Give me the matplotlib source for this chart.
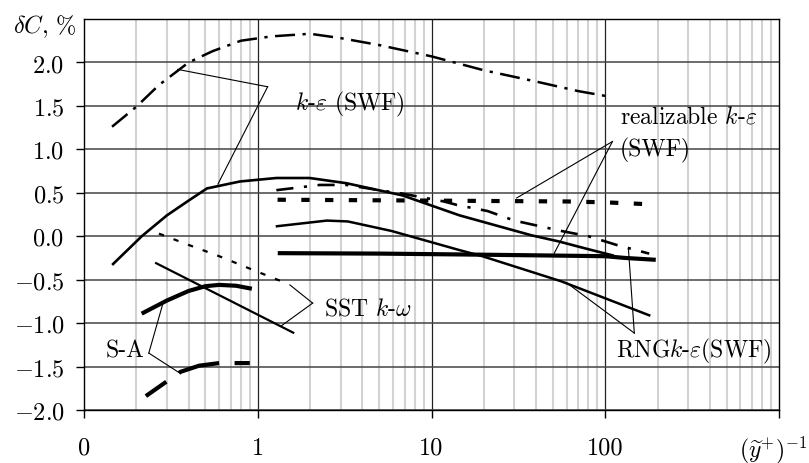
import matplotlib
matplotlib.use('Agg')
import matplotlib.pyplot as plt
from matplotlib.ticker import FixedLocator, FixedFormatter, NullFormatter
import numpy as np

plt.rcParams['font.family'] = 'serif'
plt.rcParams['font.serif'] = ['cmr10']
plt.rcParams['mathtext.fontset'] = 'cm'
plt.rcParams['axes.formatter.use_mathtext'] = True

# ---------------- data ----------------
ke_swf_dd_x = [0.145, 0.2, 0.27, 0.4, 0.55, 0.8, 1.2, 2.0, 3.0, 5.0, 10, 20, 40, 70, 110]
ke_swf_dd_y = [1.26, 1.49, 1.74, 2.0, 2.13, 2.25, 2.30, 2.33, 2.28, 2.20, 2.07, 1.91, 1.78, 1.67, 1.60]

ke_swf_x = [0.147, 0.215, 0.30, 0.40, 0.51, 0.79, 1.28, 1.99, 3.24, 6.8, 14.5, 37.7, 54, 80, 110]
ke_swf_y = [-0.32, 0.0, 0.24, 0.41, 0.55, 0.63, 0.67, 0.67, 0.61, 0.47, 0.24, 0.01, -0.06, -0.15, -0.22]

rke_dd_x = [1.28, 2.27, 3.25, 5.0, 6.8, 11.8, 14, 21, 30, 56, 80, 100, 116, 179]
rke_dd_y = [0.53, 0.59, 0.59, 0.53, 0.49, 0.40, 0.36, 0.29, 0.18, 0.06, 0.0, -0.06, -0.10, -0.20]

rke_dash_x = [1.3, 10, 60, 100, 170]
rke_dash_y = [0.42, 0.41, 0.40, 0.39, 0.37]

thick_x = [1.34, 5, 15, 40, 100, 130, 190]
thick_y = [-0.195, -0.20, -0.21, -0.22, -0.23, -0.25, -0.27]

rng_x = [1.29, 2.5, 3.3, 5.9, 14.5, 19.6, 35, 56, 179]
rng_y = [0.115, 0.18, 0.17, 0.06, -0.16, -0.23, -0.39, -0.52, -0.91]

sst_dot_x = [0.27, 0.4, 0.6, 1.0, 1.5]
sst_dot_y = [0.03, -0.10, -0.23, -0.41, -0.55]

sst_x = [0.26, 1.6]
sst_y = [-0.31, -1.11]

sa_x = [0.22, 0.3, 0.4, 0.5, 0.6, 0.75, 0.9]
sa_y = [-0.88, -0.74, -0.63, -0.575, -0.56, -0.57, -0.60]

sa_dash_x = [0.227, 0.3, 0.36, 0.46, 0.6, 0.75, 0.9]
sa_dash_y = [-1.84, -1.67, -1.56, -1.49, -1.46, -1.46, -1.46]

xtick_pos = [0.1, 1, 10, 100, 1000]
xtick_labels = ['0', '1', '10', '100', '']
ytick_pos = [-2.0, -1.5, -1.0, -0.5, 0.0, 0.5, 1.0, 1.5, 2.0]
ytick_labels = [r'$-2.0$', r'$-1.5$', r'$-1.0$', r'$-0.5$', r'$0.0$', r'$0.5$', r'$1.0$', r'$1.5$', r'$2.0$']

# ---------------- figure ----------------
fig = plt.figure(figsize=(8.09, 4.64), dpi=100)
ax = fig.add_axes([84/809, 1-411/464, (779-84)/809, (411-20)/464])
ax.set_xscale('log')
ax.set_xlim(0.1, 1000)
ax.set_ylim(-2.0, 2.5)

# grid
minor = [m * 10.0**e for e in (-1, 0, 1, 2) for m in range(2, 10)]
for xv in minor:
    ax.axvline(xv, color='#d2d2d2', lw=1.5, zorder=0)
for xv in [1, 10, 100]:
    ax.axvline(xv, color='#222222', lw=0.9, zorder=0.5)
for yv in ytick_pos:
    ax.axhline(yv, color='#444444', lw=1.1, zorder=0.5)

ax.xaxis.set_major_locator(FixedLocator(xtick_pos))
ax.xaxis.set_major_formatter(FixedFormatter(xtick_labels))
ax.xaxis.set_minor_locator(FixedLocator([]))
ax.xaxis.set_minor_formatter(NullFormatter())
ax.yaxis.set_major_locator(FixedLocator(ytick_pos))
ax.yaxis.set_major_formatter(FixedFormatter(ytick_labels))
ax.tick_params(axis='x', direction='out', length=6, width=1, pad=13, labelsize=17.5)
ax.tick_params(axis='y', direction='out', length=6, width=1, pad=8, labelsize=17.5)
for s in ax.spines.values():
    s.set_linewidth(1.0)

k = 'black'
ax.plot(ke_swf_dd_x, ke_swf_dd_y, color=k, lw=1.8, linestyle=(0, (8, 3, 1.3, 3)), zorder=3)
ax.plot(ke_swf_x, ke_swf_y, color=k, lw=1.9, zorder=3)
ax.plot(rke_dd_x, rke_dd_y, color=k, lw=1.9, linestyle=(0, (6.5, 4, 1.2, 4)), zorder=3)
ax.plot(rke_dash_x, rke_dash_y, color=k, lw=3.0, linestyle=(0, (2, 3.7)), zorder=3)
ax.plot(thick_x, thick_y, color=k, lw=3.0, zorder=3)
ax.plot(rng_x, rng_y, color=k, lw=1.8, zorder=3)
ax.plot(sst_dot_x, sst_dot_y, color=k, lw=1.6, linestyle=(0, (2.4, 4.6)), zorder=3)
ax.plot(sst_x, sst_y, color=k, lw=1.6, zorder=3)
ax.plot(sa_x, sa_y, color=k, lw=3.0, zorder=3)
ax.plot(sa_dash_x, sa_dash_y, color=k, lw=3.0, linestyle=(4, (10, 3.7)), zorder=3)

# annotation leader lines
def leader(apex, targets):
    for t in targets:
        ax.plot([apex[0], t[0]], [apex[1], t[1]], color=k, lw=0.8, zorder=4)

leader((1.14, 1.72), [(0.346, 1.92), (0.59, 0.60)])
leader((110, 1.09), [(30.9, 0.44), (50.9, -0.195)])
leader((147, -1.115), [(59.4, -0.53), (136, -0.15)])
leader((2.07, -0.77), [(1.53, -0.56), (1.37, -1.03)])
leader((0.236, -1.345), [(0.284, -0.78), (0.356, -1.575)])

fs = 17
ax.text(1.63, 1.53, r'$k$-$\varepsilon$ (SWF)', fontsize=fs, va='center', ha='left', zorder=5)
ax.text(121, 1.38, r'realizable $k$-$\varepsilon$', fontsize=fs, va='center', ha='left', zorder=5)
ax.text(121, 1.0, '(SWF)', fontsize=fs, va='center', ha='left', zorder=5)
ax.text(115, -1.32, r'RNG$k$-$\varepsilon$(SWF)', fontsize=fs, va='center', ha='left', zorder=5)
ax.text(2.42, -0.83, r'SST $k$-$\omega$', fontsize=fs, va='center', ha='left', zorder=5)
ax.text(0.224, -1.32, 'S-A', fontsize=fs, va='center', ha='right', zorder=5)

fig.text(13/809, 1-27/464, r'$\delta C$, %', fontsize=17.5, va='center', ha='left')
fig.text(807/809, 1-450/464, r'$(\widetilde{y}^{+})^{-1}$', fontsize=17, va='center', ha='right')

fig.savefig('out.png', dpi=100)
